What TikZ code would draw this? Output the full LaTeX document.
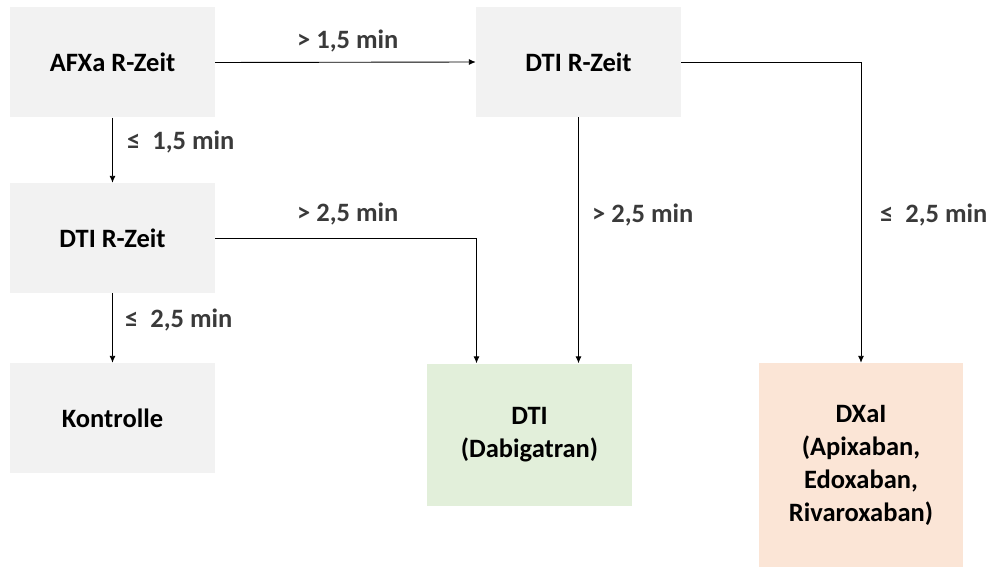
\documentclass[tikz,border=0pt]{standalone}
\usepackage{fontspec}
\setmainfont{Carlito}
\usetikzlibrary{arrows.meta}
\definecolor{boxgrey}{HTML}{F2F2F2}
\definecolor{boxgreen}{HTML}{E2EFDA}
\definecolor{boxorange}{HTML}{FBE5D6}
\definecolor{labelgrey}{HTML}{3A3A3A}
\begin{document}
\begin{tikzpicture}[x=1pt, y=-1pt,
    box/.style={fill=#1, inner sep=0pt, align=center,
      font=\fontsize{26.5}{33}\selectfont\bfseries},
    arr/.style={-{Latex[length=7pt,width=6pt]}, line width=0.9pt},
    lbl/.style={anchor=west, inner sep=0pt, text=labelgrey,
      font=\fontsize{26.5}{33}\selectfont\bfseries}]
    \useasboundingbox (0,0) rectangle (992,567);

    % Boxes
    \node[box=boxgrey, minimum width=205pt, minimum height=110pt] (afxa) at (112.5,62.5) {AFXa R-Zeit};
    \node[box=boxgrey, minimum width=205pt, minimum height=110pt] (dtitop) at (578.5,62) {DTI R-Zeit};
    \node[box=boxgrey, minimum width=205pt, minimum height=110pt] (dtimid) at (112.5,238) {DTI R-Zeit};
    \node[box=boxgrey, minimum width=205pt, minimum height=110pt] (kontrolle) at (112.5,418) {Kontrolle};
    \node[box=boxgreen, minimum width=205pt, minimum height=142pt] (dti) at (529.5,434.5) {DTI\\(Dabigatran)};
    \node[box=boxorange, minimum width=204pt, minimum height=204pt] (dxai) at (861,465) {DXaI\\(Apixaban,\\Edoxaban,\\Rivaroxaban)};

    % Connectors
    \draw[arr] (afxa.east) -- (dtitop.west);
    \draw[arr] (afxa.south) -- (dtimid.north);
    \draw[arr] (dtimid.south) -- (kontrolle.north);
    \draw[arr] (dtimid.east) -| ([xshift=-53pt]dti.north);
    \draw[arr] (dtitop.south) -- (dtitop.south |- dti.north);
    \draw[arr] (dtitop.east) -| (dxai.north);

    % Labels
    \node[lbl] (l1) at (297,41) {> 1,5 min};
    \node[lbl] (l2) at (127,142) {≤\ \ 1,5 min};
    \node[lbl] (l3) at (297,214) {> 2,5 min};
    \node[lbl] (l4) at (592,215) {> 2,5 min};
    \node[lbl] (l5) at (880,215) {≤\ \ 2,5 min};
    \node[lbl] (l6) at (125,320) {≤\ \ 2,5 min};
\end{tikzpicture}
\end{document}
